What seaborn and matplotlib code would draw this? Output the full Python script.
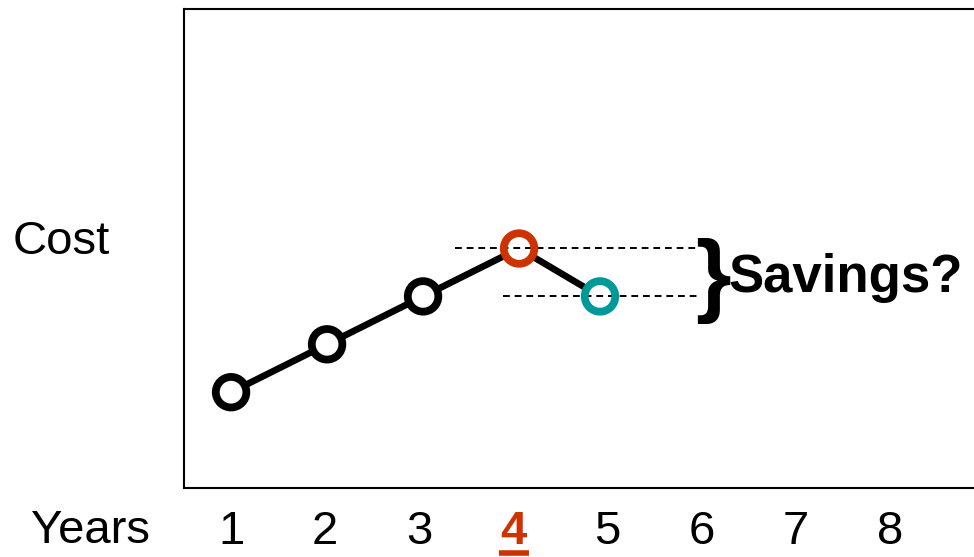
import matplotlib
matplotlib.use("Agg")
import matplotlib.pyplot as plt
from matplotlib.lines import Line2D
import seaborn as sns
import pandas as pd

# Cost per year of service
years = [1.0, 2.02, 3.04, 4.06, 4.92]
cost = [2, 3, 4, 5, 4]
point_colors = ["black", "black", "black", "#CC3300", "#009999"]

tick_positions = [1, 2, 3, 4, 5, 6, 7, 8]
tick_labels = ["1", "2", "3", "4", "5", "6", "7", "8"]
highlight_year = "4"

RED = "#CC3300"
TEAL = "#009999"

sns.set_style("white")
plt.rcParams["font.family"] = ["Liberation Sans", "DejaVu Sans"]
plt.rcParams["text.color"] = "black"
plt.rcParams["xtick.color"] = "black"
plt.rcParams["xtick.labelcolor"] = "black"

fig = plt.figure(figsize=(9.74, 5.57), dpi=100)
ax = fig.add_axes([184 / 974, 69 / 557, 800 / 974, 479 / 557])
ax.set_xlim(0.5, 9.0)
ax.set_ylim(0, 10)

df = pd.DataFrame({"year": years, "cost": cost})

# connecting line
sns.lineplot(data=df, x="year", y="cost", color="black", linewidth=4.8,
             ax=ax, zorder=2, sort=False)

# white faces under the markers
ax.scatter(years, cost, s=22 ** 2, facecolors="white", edgecolors="none",
           zorder=3)

# dashed guides from the two last points out to the brace
ax.plot([3.38, 5.95], [cost[3], cost[3]], color="black", lw=1.4,
        dashes=(3.5, 2.5), zorder=4)
ax.plot([3.89, 5.95], [cost[4], cost[4]], color="black", lw=1.4,
        dashes=(3.5, 2.5), zorder=4)

# marker rings
ax.scatter(years, cost, s=22 ** 2, facecolors="none",
           edgecolors=point_colors, linewidths=5.6, zorder=5)

# brace and annotation
ax.text(6.12, 4.33, "}", fontsize=66, fontweight="bold", ha="center",
        va="center", color="black", zorder=6)
ax.text(6.29, 4.38, "Savings?", fontsize=38, fontweight="bold",
        ha="left", va="center", color="black", zorder=6)

# axes frame
for side in ["left", "top", "bottom", "right"]:
    ax.spines[side].set_visible(True)
    ax.spines[side].set_color("black")
    ax.spines[side].set_linewidth(1.5)

ax.set_xticks(tick_positions)
ax.set_xticklabels(tick_labels, fontsize=34, color="black")
ax.set_yticks([])
ax.tick_params(axis="x", length=0, pad=16)
for lbl in ax.get_xticklabels():
    if lbl.get_text() == highlight_year:
        lbl.set_color(RED)
        lbl.set_fontweight("bold")
ax.set_xlabel("")
ax.set_ylabel("")

fig.text(61 / 974, 1 - 242 / 557, "Cost", fontsize=34, ha="center",
         va="center", color="black")
fig.text(90 / 974, 1 - 531 / 557, "Years", fontsize=34, ha="center",
         va="center", color="black")

# underline for the highlighted year
fig.add_artist(Line2D([499 / 974, 529 / 974], [1 - 553 / 557, 1 - 553 / 557],
                      color=RED, lw=4.0, solid_capstyle="butt"))

fig.savefig("out.png", dpi=100)
